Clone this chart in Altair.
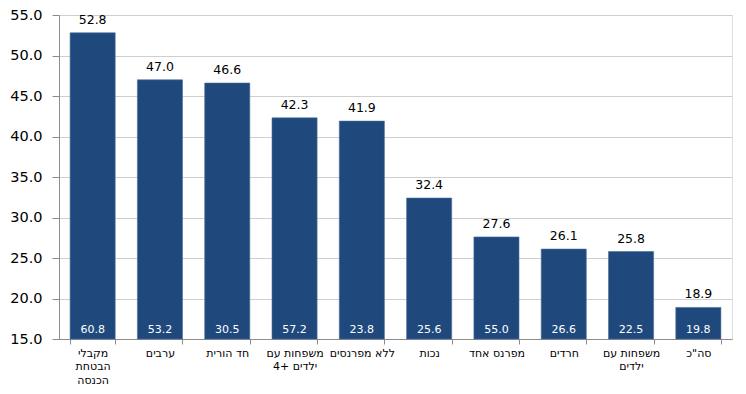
import altair as alt
import pandas as pd

# Category labels (lines separated by "|")
categories = [
    "מקבלי|הבטחת|הכנסה",
    "ערבים",
    "חד הורית",
    "משפחות עם|4+ ילדים",
    "ללא מפרנסים",
    "נכות",
    "מפרנס אחד",
    "חרדים",
    "משפחות עם|ילדים",
    'סה"כ',
]
top_values = [52.8, 47.0, 46.6, 42.3, 41.9, 32.4, 27.6, 26.1, 25.8, 18.9]
inner_values = [60.8, 53.2, 30.5, 57.2, 23.8, 25.6, 55.0, 26.6, 22.5, 19.8]
y_ticks = [15, 20, 25, 30, 35, 40, 45, 50, 55]

df = pd.DataFrame({
    "cat": categories,
    "top": top_values,
    "inner": inner_values,
    "base": [15] * len(categories),
})
df["top_txt"] = [f"{v:.1f}" for v in top_values]
df["inner_txt"] = [f"{v:.1f}" for v in inner_values]

FONT = "DejaVu Sans"
BLUE = "#1F497D"

x = alt.X(
    "cat:N",
    sort=categories,
    title=None,
    scale=alt.Scale(paddingInner=0.33, paddingOuter=0.165),
    axis=alt.Axis(
        labelAngle=0,
        labelExpr="split(datum.label, '|')",
        labelFont=FONT,
        labelFontSize=11,
        labelColor="#000000",
        labelLineHeight=13.5,
        labelLimit=200,
        labelPadding=3,
        labelBaseline="top",
        tickBand="extent",
        tickSize=5,
        tickColor="#8c8c8c",
        domainColor="#8c8c8c",
        grid=False,
    ),
)

y = alt.Y(
    "top:Q",
    title=None,
    scale=alt.Scale(domain=[15, 55], nice=False, zero=False),
    axis=alt.Axis(
        values=y_ticks,
        format=".1f",
        labelFont=FONT,
        labelFontSize=14.5,
        labelColor="#000000",
        labelPadding=10,
        tickSize=7,
        tickColor="#8c8c8c",
        domainColor="#8c8c8c",
        gridColor="#cfcfcf",
        grid=True,
    ),
)

base = alt.Chart(df)

bars = base.mark_bar(color=BLUE, stroke="#4a6c9a", strokeWidth=0.6).encode(
    x=x, y=y, y2="base:Q"
)

top_text = base.mark_text(
    font=FONT, fontSize=12.5, color="#000000", baseline="alphabetic", dy=-9
).encode(x=alt.X("cat:N", sort=categories), y="top:Q", text="top_txt:N")

inner_text = base.mark_text(
    font=FONT, fontSize=11, color="#ffffff", baseline="alphabetic", dy=-6
).encode(x=alt.X("cat:N", sort=categories), y="base:Q", text="inner_txt:N")

chart = (
    alt.layer(bars, top_text, inner_text)
    .properties(
        width=673,
        height=324,
        autosize=alt.AutoSizeParams(type="none"),
        padding={"left": 51, "top": 7, "right": 6, "bottom": 47},
    )
    .configure_view(stroke=None)
    .configure(background="white")
)

chart.save("out.html", embed_options={"renderer": "svg", "actions": False})
